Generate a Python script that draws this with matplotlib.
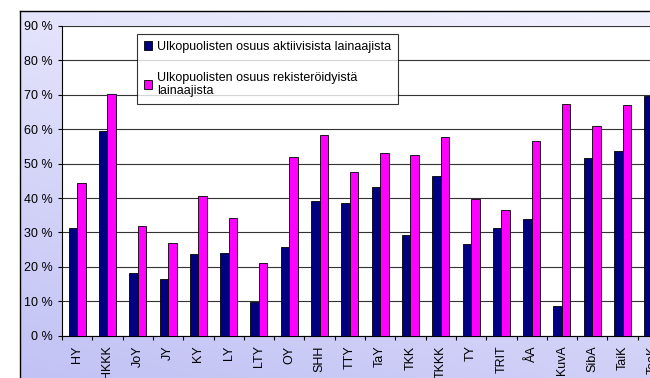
import numpy as np
import matplotlib.pyplot as plt
from matplotlib.lines import Line2D
from matplotlib.ticker import MultipleLocator, FuncFormatter

plt.rcParams["font.family"] = ["Liberation Sans", "DejaVu Sans"]

# -----------------------------
# Data (%)
# -----------------------------
schools = ["HY", "HKKK", "JoY", "JY", "KY", "LY", "LTY", "OY", "SHH", "TTY",
           "TaY", "TKK", "TKKK", "TY", "TRIT", "ÅA", "KuvA", "SibA", "TaiK", "TeaK"]
active = [31.4, 59.5, 18.3, 16.4, 23.8, 24.1, 9.8, 25.9, 39.2, 38.7,
          43.3, 29.2, 46.3, 26.6, 31.2, 34.0, 8.6, 51.5, 53.8, 69.8]
registered = [44.5, 70.2, 31.9, 27.0, 40.7, 34.2, 21.1, 51.9, 58.2, 47.5,
              53.0, 52.5, 57.8, 39.7, 36.5, 56.6, 67.4, 61.0, 67.1, 78.0]

label_active = "Ulkopuolisten osuus aktiivisista lainaajista"
label_registered = "Ulkopuolisten osuus rekisteröidyistä\nlainaajista"

W, H = 650, 378
fig = plt.figure(figsize=(W / 100, H / 100), dpi=100)

# -----------------------------
# Chart area background: lavender gradient with a frame
# -----------------------------
bg = fig.add_axes([0, 0, 1, 1], zorder=0)
bg.set_axis_off()
u = np.linspace(0, 1, 200)[None, :]
v = np.linspace(0, 1, 200)[:, None]
t = 0.7 * v + 0.3 * (1 - u)
light = np.array([0.95, 0.95, 1.0])
dark = np.array([0.76, 0.76, 0.96])
grad = light[None, None, :] * (1 - t[..., None]) + dark[None, None, :] * t[..., None]
x0, y1 = 20 / W, 1 - 11 / H
bg.imshow(grad, extent=[x0, 1, 0, y1], aspect="auto", origin="upper")
bg.set_xlim(0, 1)
bg.set_ylim(0, 1)
bg.add_line(Line2D([x0, x0], [0, y1], color="black", lw=1.0))
bg.add_line(Line2D([x0, 1], [y1, y1], color="black", lw=1.0))

# -----------------------------
# Bars
# -----------------------------
n = len(schools)
cat_w = 30.3
ax = fig.add_axes([62 / W, 1 - 335.7 / H, n * cat_w / W, (335.7 - 26) / H], zorder=1)
ax.set_facecolor("white")

x = np.arange(n)
bw = 0.28
ax.bar(x - bw / 2, active, bw, color="#000080", edgecolor="black", linewidth=0.6,
       label=label_active, zorder=3)
ax.bar(x + bw / 2, registered, bw, color="#FF00FF", edgecolor="black", linewidth=0.6,
       label=label_registered, zorder=3)

ax.set_xlim(-0.5, n - 0.5)
ax.set_ylim(0, 90)
ax.yaxis.set_major_locator(MultipleLocator(10))
ax.yaxis.set_major_formatter(FuncFormatter(lambda val, pos: f"{val:.0f} %"))
ax.grid(axis="y", color="#333333", linewidth=0.8, zorder=0)

ax.set_xticks(x)
ax.set_xticklabels(schools, rotation=90, fontsize=9)
ax.set_xticks(np.arange(n + 1) - 0.5, minor=True)
ax.tick_params(axis="x", which="major", length=0, pad=7)
ax.tick_params(axis="x", which="minor", length=3, width=0.8)
ax.tick_params(axis="y", length=3, width=0.8, labelsize=9, pad=4)

for side in ["top", "right"]:
    ax.spines[side].set_visible(False)
ax.spines["left"].set_linewidth(0.8)
ax.spines["bottom"].set_linewidth(0.8)

leg = ax.legend(loc="upper left", bbox_to_anchor=((136.7 - 62) / (n * cat_w), 1 - (34 - 26) / 309.7),
                fontsize=9, frameon=True, fancybox=False, edgecolor="black",
                handlelength=0.7, handleheight=0.7, handletextpad=0.35,
                labelspacing=1.5, borderpad=0.55, borderaxespad=0)
leg.get_frame().set_linewidth(0.8)
leg.set_zorder(5)

fig.savefig("out.png", dpi=100)
plt.close(fig)
